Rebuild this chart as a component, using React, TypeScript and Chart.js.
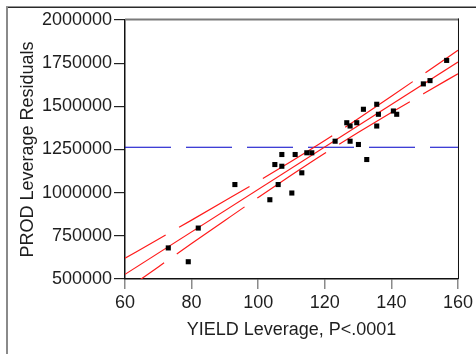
import React, { useEffect, useRef } from "react";
import { Chart, registerables } from "chart.js";

Chart.register(...registerables);

// Leverage residuals, one point per observation
const yieldLeverage = [
  73.0, 79.0, 82.0, 93.0, 103.5, 105.0, 107.1, 107.1, 106.0, 110.1, 111.1, 113.1, 114.6, 116.1, 123.1,
  127.6, 130.1, 132.6, 156.6, 149.6, 151.6, 131.6, 135.6, 136.1, 140.6, 141.6, 135.6, 126.6, 127.6, 129.6,
];
const prodResidual = [
  680000, 600000, 795000, 1047000, 959000, 1163000, 1221000, 1153000, 1047000, 998000, 1221000, 1115000,
  1231000, 1231000, 1298000, 1298000, 1279000, 1192000, 1766000, 1630000, 1649000, 1483000, 1512000,
  1454000, 1473000, 1454000, 1386000, 1405000, 1386000, 1405000,
];

// Fitted line and its 95% confidence curves
const fitX = [60, 160];
const fitY = [527000, 1757000];
const bandX = [60, 70, 80, 90, 100, 110, 120, 130, 140, 150, 160];
const bandUpper = [620000, 730000, 841000, 953000, 1066000, 1182000, 1302000, 1428000, 1558000, 1691000, 1825000];
const bandLower = [434000, 570000, 705000, 839000, 972000, 1102000, 1228000, 1348000, 1464000, 1577000, 1689000];

// Horizontal reference at the response mean
const meanX = [60, 160];
const meanY = 1263000;

const xTicks = [60, 80, 100, 120, 140, 160];
const yTicks = [500000, 750000, 1000000, 1250000, 1500000, 1750000, 2000000];

const FONT = "'Liberation Sans', Arial, sans-serif";
const TEXT = "#1e1e1e";

const framePlugin = {
  id: "frames",
  beforeDraw(chart: any) {
    const ctx = chart.ctx;
    ctx.save();
    ctx.fillStyle = "#fff";
    ctx.fillRect(0, 0, chart.width, chart.height);
    ctx.fillStyle = "#2a2a2a";
    ctx.fillRect(6, 6.5, chart.width - 6, 1.5);
    ctx.fillStyle = "#8a8a8a";
    ctx.fillRect(6, 7, 2, chart.height - 7);
    ctx.restore();
  },
  afterDraw(chart: any) {
    const { ctx, chartArea } = chart;
    const { left, right, top, bottom } = chartArea;
    ctx.save();
    ctx.fillStyle = "#7a7a7a";
    ctx.fillRect(left, top - 1.5, right - left + 1, 2);
    ctx.fillStyle = "#111";
    ctx.fillRect(right, top - 1.5, 1, bottom - top + 1.5);
    ctx.restore();
  },
};

export default function App() {
  const canvasRef = useRef<HTMLCanvasElement | null>(null);

  useEffect(() => {
    if (!canvasRef.current) return;
    const points = yieldLeverage.map((x, i) => ({ x, y: prodResidual[i] }));
    const fit = fitX.map((x, i) => ({ x, y: fitY[i] }));
    const upper = bandX.map((x, i) => ({ x, y: bandUpper[i] }));
    const lower = bandX.map((x, i) => ({ x, y: bandLower[i] }));
    const mean = meanX.map((x) => ({ x, y: meanY }));

    const chart = new Chart(canvasRef.current, {
      type: "scatter",
      data: {
        datasets: [
          {
            data: points,
            pointStyle: "rect",
            pointRadius: 3.6,
            pointBorderWidth: 0,
            backgroundColor: "#000",
            borderColor: "#000",
          },
          {
            data: fit,
            showLine: true,
            pointRadius: 0,
            borderColor: "#ff1a1a",
            borderWidth: 1.2,
          },
          {
            data: upper,
            showLine: true,
            pointRadius: 0,
            cubicInterpolationMode: "monotone",
            borderColor: "#ff1a1a",
            borderWidth: 1.2,
            borderDash: [81.5, 15.5],
            borderDashOffset: 34.7,
          },
          {
            data: lower,
            showLine: true,
            pointRadius: 0,
            cubicInterpolationMode: "monotone",
            borderColor: "#ff1a1a",
            borderWidth: 1.2,
            borderDash: [82.5, 15.5],
            borderDashOffset: 34.7,
          },
          {
            data: mean,
            showLine: true,
            pointRadius: 0,
            borderColor: "#0000c8",
            borderWidth: 1.2,
            borderDash: [46, 15],
          },
        ],
      },
      options: {
        animation: false,
        responsive: false,
        devicePixelRatio: 1,
        layout: { padding: { top: 20, right: 18, left: 0, bottom: 0 } },
        plugins: { legend: { display: false }, tooltip: { enabled: false } },
        scales: {
          x: {
            type: "linear",
            min: 60,
            max: 160,
            afterFit(scale: any) {
              scale.height = 75;
            },
            afterBuildTicks(scale: any) {
              scale.ticks = xTicks.map((v) => ({ value: v }));
            },
            grid: { drawOnChartArea: false, drawTicks: true, tickLength: 10, color: "#8a8a8a", lineWidth: 1.5 },
            border: { display: true, color: "#111", width: 1.5 },
            ticks: { color: TEXT, font: { family: FONT, size: 18 }, padding: 3, maxRotation: 0 },
            title: {
              display: true,
              text: "YIELD Leverage, P<.0001",
              color: TEXT,
              font: { family: FONT, size: 18, lineHeight: 1 },
              padding: { top: 0, bottom: 15 },
            },
          },
          y: {
            type: "linear",
            min: 500000,
            max: 2000000,
            afterFit(scale: any) {
              scale.width = 125;
            },
            afterBuildTicks(scale: any) {
              scale.ticks = yTicks.map((v) => ({ value: v }));
            },
            grid: { drawOnChartArea: false, drawTicks: true, tickLength: 11, color: "#222", lineWidth: 1.2 },
            border: { display: true, color: "#111", width: 1.5 },
            ticks: {
              color: TEXT,
              font: { family: FONT, size: 18 },
              padding: 2,
              callback: (v: any) => String(v),
            },
            title: {
              display: true,
              text: "PROD Leverage Residuals",
              color: TEXT,
              font: { family: FONT, size: 18, lineHeight: 1 },
              padding: { top: 19, bottom: 0 },
            },
          },
        },
      },
      plugins: [framePlugin],
    });
    return () => chart.destroy();
  }, []);

  return (
    <div style={{ position: "fixed", left: 0, top: 0, width: 476, height: 354, background: "#fff" }}>
      <canvas ref={canvasRef} width={476} height={354} style={{ display: "block" }} />
    </div>
  );
}
